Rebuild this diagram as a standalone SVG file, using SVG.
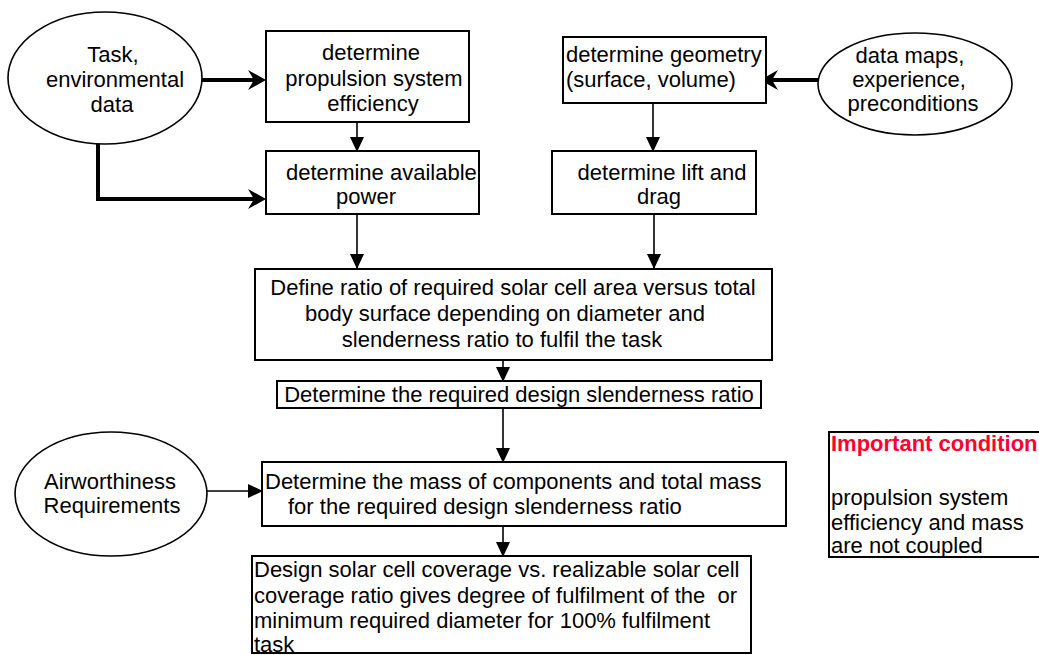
<svg xmlns="http://www.w3.org/2000/svg" width="1039" height="655" viewBox="0 0 1039 655">
<style>
text{font-family:"Liberation Sans",Arial,Helvetica,sans-serif;font-size:22px;fill:#000}
.box{fill:#fff;stroke:#000;stroke-width:2}
.ell{fill:#fff;stroke:#000;stroke-width:1.6}
.c{text-anchor:middle}
.thin{fill:none;stroke:#000;stroke-width:1.6}
.thick{fill:none;stroke:#000;stroke-width:4}
.red{fill:#ff0033;font-weight:bold}
</style>
<defs>
<marker id="ah" viewBox="0 0 15 14" refX="14" refY="7" markerWidth="15" markerHeight="14" markerUnits="userSpaceOnUse" orient="auto">
<path d="M0,0 L15,7 L0,14 z" fill="#000"/>
</marker>
<marker id="ahb" viewBox="0 0 18 20" refX="6" refY="10" markerWidth="18" markerHeight="20" markerUnits="userSpaceOnUse" orient="auto">
<path d="M0,0 L18,10 L0,20 L6,10 z" fill="#000"/>
</marker>
</defs>
<rect width="1039" height="655" fill="#fff"/>
<g id="connectors">
<path class="thick" d="M202,80 L254,80" marker-end="url(#ahb)"/>
<path class="thick" d="M98,144 L98,199 L254,199" marker-end="url(#ahb)"/>
<path class="thick" d="M818,80 L772,80" marker-end="url(#ahb)"/>
<path class="thin" d="M357,122 L357,151" marker-end="url(#ah)"/>
<path class="thin" d="M653,103 L653,151" marker-end="url(#ah)"/>
<path class="thin" d="M357,214 L357,268" marker-end="url(#ah)"/>
<path class="thin" d="M654,214 L654,268" marker-end="url(#ah)"/>
<path class="thin" d="M503,360 L503,381" marker-end="url(#ah)"/>
<path class="thin" d="M503,408 L503,462" marker-end="url(#ah)"/>
<path class="thin" d="M207,491 L262,491" marker-end="url(#ah)"/>
<path class="thin" d="M503,526 L503,556" marker-end="url(#ah)"/>
</g>
<g id="task">
<ellipse class="ell" cx="105" cy="78" rx="97" ry="66"/>
<text class="c" x="113" y="62">Task,</text>
<text class="c" x="115" y="87">environmental</text>
<text class="c" x="112" y="112">data</text>
</g>
<g id="propulsion">
<rect class="box" x="266" y="31" width="203" height="91"/>
<text class="c" x="371" y="60">determine</text>
<text class="c" x="374" y="86">propulsion system</text>
<text class="c" x="373" y="111">efficiency</text>
</g>
<g id="power">
<rect class="box" x="266" y="151" width="213" height="63"/>
<text x="286" y="180">determine available</text>
<text class="c" x="366" y="204">power</text>
</g>
<g id="geometry">
<rect class="box" x="563" y="37" width="203" height="66"/>
<text x="566" y="62">determine geometry</text>
<text x="566" y="87">(surface, volume)</text>
</g>
<g id="datamaps">
<ellipse class="ell" cx="915" cy="84" rx="97" ry="51"/>
<text class="c" x="910" y="63">data maps,</text>
<text class="c" x="909" y="87">experience,</text>
<text class="c" x="913" y="111">preconditions</text>
</g>
<g id="lift">
<rect class="box" x="552" y="151" width="204" height="63"/>
<text class="c" x="662" y="180">determine lift and</text>
<text class="c" x="659" y="204">drag</text>
</g>
<g id="define">
<rect class="box" x="255" y="269" width="517" height="91"/>
<text class="c" x="513" y="295">Define ratio of required solar cell area versus total</text>
<text class="c" x="505" y="321">body surface depending on diameter and</text>
<text class="c" x="502" y="347">slenderness ratio to fulfil the task</text>
</g>
<g id="slenderness">
<rect class="box" x="277" y="381" width="484" height="27"/>
<text class="c" x="519" y="402">Determine the required design slenderness ratio</text>
</g>
<g id="airworthiness">
<ellipse class="ell" cx="111" cy="494" rx="96" ry="62"/>
<text class="c" x="110" y="489">Airworthiness</text>
<text class="c" x="112" y="513">Requirements</text>
</g>
<g id="mass">
<rect class="box" x="262" y="462" width="524" height="64"/>
<text x="265" y="489">Determine the mass of components and total mass</text>
<text x="288" y="514">for the required design slenderness ratio</text>
</g>
<g id="design">
<rect class="box" x="252" y="556" width="499" height="97"/>
<text x="254" y="577">Design solar cell coverage vs. realizable solar cell</text>
<text x="254" y="603" xml:space="preserve">coverage ratio gives degree of fulfilment of the  or</text>
<text x="254" y="628">minimum required diameter for 100% fulfilment</text>
<text x="254" y="652">task</text>
</g>
<g id="condition">
<rect class="box" x="829" y="432" width="220" height="125"/>
<text class="red" x="831" y="451">Important condition</text>
<text x="831" y="505">propulsion system</text>
<text x="831" y="530">efficiency and mass</text>
<text x="831" y="553">are not coupled</text>
</g>
</svg>
